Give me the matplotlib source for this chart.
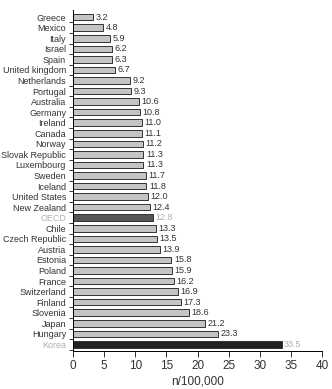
import matplotlib.pyplot as plt
import numpy as np

plt.rcParams['font.family'] = ['Liberation Sans', 'DejaVu Sans']

countries = ["Greece", "Mexico", "Italy", "Israel", "Spain", "United kingdom",
             "Netherlands", "Portugal", "Australia", "Germany", "Ireland",
             "Canada", "Norway", "Slovak Republic", "Luxembourg", "Sweden",
             "Iceland", "United States", "New Zealand", "OECD", "Chile",
             "Czech Republic", "Austria", "Estonia", "Poland", "France",
             "Switzerland", "Finland", "Slovenia", "Japan", "Hungary", "Korea"]
rates = [3.2, 4.8, 5.9, 6.2, 6.3, 6.7, 9.2, 9.3, 10.6, 10.8, 11.0,
         11.1, 11.2, 11.3, 11.3, 11.7, 11.8, 12.0, 12.4, 12.8, 13.3,
         13.5, 13.9, 15.8, 15.9, 16.2, 16.9, 17.3, 18.6, 21.2, 23.3, 33.5]
xticks = [0, 5, 10, 15, 20, 25, 30, 35, 40]

fig = plt.figure(figsize=(3.32, 3.89), dpi=100)
ax = fig.add_axes([0.22, 0.097, 0.75, 0.878])

y = np.arange(len(countries))
colors = []
txtcol = []
for c in countries:
    if c == "OECD":
        colors.append("#555555")
        txtcol.append("#b0b0b0")
    elif c == "Korea":
        colors.append("#222222")
        txtcol.append("#b0b0b0")
    else:
        colors.append("#c4c4c4")
        txtcol.append("#333333")

ax.barh(y, rates, height=0.62, color=colors, edgecolor="#333333", linewidth=0.7)
for i, v in enumerate(rates):
    ax.text(v + 0.4, i, "%.1f" % v, va="center", ha="left", fontsize=6.5, color=txtcol[i])

ax.set_ylim(len(countries) - 0.35, -0.7)
ax.set_xlim(0, 40)
ax.set_yticks(y)
ax.set_yticklabels(countries, fontsize=6.5)
for lab, col in zip(ax.get_yticklabels(), txtcol):
    lab.set_color(col)
ax.set_yticks(y + 0.5, minor=True)
ax.tick_params(axis="y", which="major", length=0, pad=5)
ax.tick_params(axis="y", which="minor", length=3, width=0.7, color="#333333")

ax.set_xticks(xticks)
ax.tick_params(axis="x", labelsize=8.5, length=4, width=0.7, color="#333333", labelcolor="#333333", pad=2.5)
ax.set_xlabel("n/100,000", fontsize=8.5, color="#333333", labelpad=2)

for s in ["top", "right"]:
    ax.spines[s].set_visible(False)
ax.spines["left"].set_linewidth(0.7)
ax.spines["bottom"].set_linewidth(0.7)

fig.savefig("out.png", dpi=100)
